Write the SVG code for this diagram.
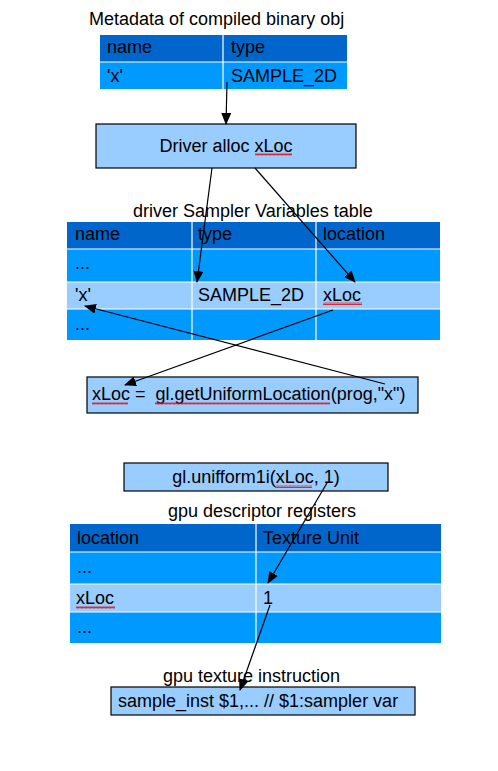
<svg xmlns="http://www.w3.org/2000/svg" width="498" height="771" viewBox="0 0 498 771">
<style>
text{font-family:"Liberation Sans",Arial,sans-serif;font-size:18px;fill:#000}
.hd{fill:#0066cc}.rw{fill:#0099ff}.hl{fill:#99ccff}
.grid{stroke:#fff;stroke-width:1.2;fill:none}
.box{fill:#99ccff;stroke:#000;stroke-width:1.2}
.sq{fill:none;stroke:#e00;stroke-width:0.8}
.cn{stroke:#000;stroke-width:1.2;fill:none;marker-end:url(#ah)}
</style>
<defs>
<marker id="ah" markerWidth="12" markerHeight="10" refX="11" refY="5" orient="auto" markerUnits="userSpaceOnUse">
<path d="M0,0 L12,5 L0,10 z" fill="#000"/>
</marker>
<pattern id="wave" width="4" height="3" patternUnits="userSpaceOnUse">
<path d="M0,2.5 L1,0.5 L2,2.5 L3,0.5 L4,2.5" fill="none" stroke="#e00" stroke-width="0.8"/>
</pattern>
</defs>

<g id="meta-table">
<text x="89" y="25">Metadata of compiled binary obj</text>
<rect class="hd" x="100" y="35" width="247" height="27"/>
<rect class="rw" x="100" y="62" width="247" height="27"/>
<path class="grid" d="M223,35V89M100,62H347"/>
<text x="107" y="53">name</text>
<text x="231" y="53">type</text>
<text x="107" y="82">'x'</text>
<text x="231" y="82">SAMPLE_2D</text>
</g>

<g id="driver-alloc">
<rect class="box" x="96" y="124" width="260" height="44"/>
<text x="226" y="152" text-anchor="middle">Driver alloc xLoc</text>
<rect x="255" y="153" width="37" height="3" fill="url(#wave)"/>
</g>

<g id="sampler-table">
<text x="133" y="217">driver Sampler Variables table</text>
<rect class="hd" x="67" y="222" width="373" height="27"/>
<rect class="rw" x="67" y="249" width="373" height="33"/>
<rect class="hl" x="67" y="282" width="373" height="27"/>
<rect class="rw" x="67" y="309" width="373" height="31"/>
<path class="grid" d="M192,222V340M316,222V340M67,249H440M67,282H440M67,309H440"/>
<text x="75" y="240">name</text>
<text x="198" y="240">type</text>
<text x="323" y="240">location</text>
<text x="75" y="269">...</text>
<text x="75" y="301">'x'</text>
<text x="198" y="301">SAMPLE_2D</text>
<text x="323" y="301">xLoc</text>
<rect x="323" y="302" width="39" height="3" fill="url(#wave)"/>
<text x="75" y="330">...</text>
</g>

<g id="get-uniform">
<rect class="box" x="87" y="377" width="331" height="36"/>
<text x="92" y="400">xLoc =&#160; gl.getUniformLocation(prog,"x")</text>
<rect x="92" y="402" width="36" height="3" fill="url(#wave)"/>
<rect x="155" y="402" width="175" height="3" fill="url(#wave)"/>
</g>

<g id="uniform1i">
<rect class="box" x="124" y="463" width="264" height="28"/>
<text x="256" y="483" text-anchor="middle">gl.unifform1i(xLoc, 1)</text>
<rect x="275" y="485" width="37" height="3" fill="url(#wave)"/>
</g>

<g id="gpu-registers">
<text x="168" y="517">gpu descriptor registers</text>
<rect class="hd" x="70" y="524" width="371" height="28"/>
<rect class="rw" x="70" y="552" width="371" height="32"/>
<rect class="hl" x="70" y="584" width="371" height="28"/>
<rect class="rw" x="70" y="612" width="371" height="31"/>
<path class="grid" d="M256,524V643M70,552H441M70,584H441M70,612H441"/>
<text x="77" y="544">location</text>
<text x="263" y="544">Texture Unit</text>
<text x="77" y="573">...</text>
<text x="76" y="604">xLoc</text>
<rect x="76" y="606" width="39" height="3" fill="url(#wave)"/>
<text x="263" y="604">1</text>
<text x="77" y="633">...</text>
</g>

<g id="gpu-instruction">
<text x="163" y="682">gpu texture instruction</text>
<rect class="box" x="111" y="687" width="304" height="28"/>
<text x="118" y="707">sample_inst $1,... // $1:sampler var</text>
</g>

<g id="connectors">
<line class="cn" x1="227" y1="82" x2="226" y2="124"/>
<line class="cn" x1="212" y1="168" x2="197" y2="282"/>
<line class="cn" x1="255" y1="168" x2="355" y2="282"/>
<line class="cn" x1="385" y1="384" x2="85" y2="306"/>
<line class="cn" x1="333" y1="310" x2="125" y2="385"/>
<line class="cn" x1="327" y1="483" x2="268" y2="583"/>
<line class="cn" x1="270" y1="605" x2="240" y2="690"/>
</g>
</svg>
